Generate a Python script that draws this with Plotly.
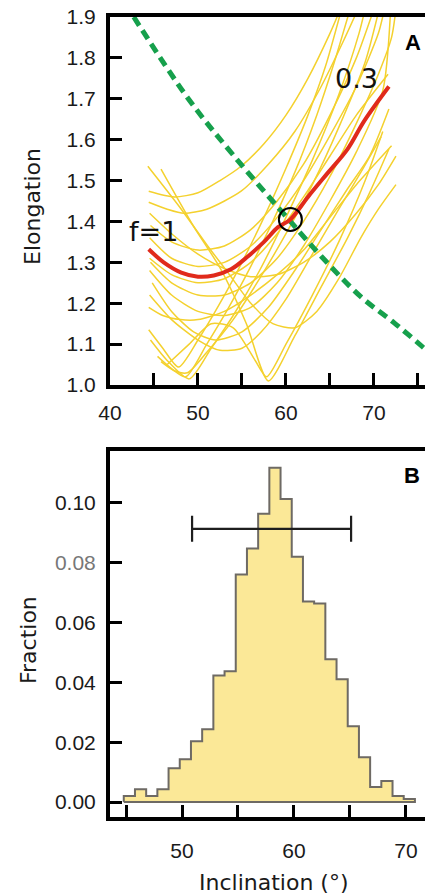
import plotly.graph_objects as go

# ---------------- Panel A data (inclination in degrees, elongation) ----------------
path_01 = [(44.3, 1.535), (48.1, 1.43), (51.1, 1.34), (53.4, 1.275), (56.0, 1.20), (58.5, 1.15),
           (61.0, 1.14), (63.5, 1.18), (66.0, 1.26), (68.5, 1.36), (70.5, 1.43), (72.5, 1.49)]
path_02 = [(45.8, 1.528), (49.5, 1.388), (52.6, 1.283), (55.5, 1.15), (58.0, 1.01),
           (61.0, 1.12), (64.0, 1.24), (67.0, 1.36), (69.5, 1.47), (71.7, 1.577)]
path_03 = [(44.4, 1.474), (47.3, 1.46), (50.0, 1.47), (52.5, 1.50), (54.9, 1.535), (57.5, 1.59),
           (60.0, 1.66), (62.5, 1.75), (65.0, 1.86), (66.0, 1.91)]
path_04 = [(44.4, 1.447), (46.5, 1.43), (48.4, 1.42), (51.0, 1.43), (54.9, 1.474), (58.0, 1.54),
           (61.0, 1.62), (64.0, 1.73), (66.5, 1.84), (68.2, 1.92)]
path_05 = [(44.6, 1.39), (47.0, 1.35), (50.0, 1.33), (53.0, 1.34), (56.0, 1.38), (59.0, 1.45),
           (62.0, 1.54), (65.0, 1.66), (68.0, 1.80), (70.0, 1.92)]
path_06 = [(44.5, 1.36), (47.0, 1.31), (50.0, 1.29), (53.0, 1.30), (56.0, 1.34), (59.0, 1.41),
           (62.0, 1.50), (65.0, 1.61), (68.0, 1.73), (70.5, 1.86), (71.2, 1.92)]
path_07 = [(44.5, 1.31), (47.0, 1.27), (50.0, 1.25), (53.0, 1.26), (56.0, 1.30), (59.0, 1.37),
           (62.0, 1.46), (65.0, 1.56), (68.0, 1.66), (71.6, 1.76)]
path_08 = [(44.6, 1.30), (47.0, 1.25), (50.0, 1.22), (53.0, 1.22), (56.0, 1.25), (59.0, 1.31),
           (62.0, 1.40), (65.0, 1.51), (68.0, 1.64), (70.5, 1.76), (72.0, 1.85), (72.5, 1.92)]
path_09 = [(44.5, 1.28), (47.0, 1.22), (50.0, 1.18), (53.0, 1.17), (56.0, 1.19), (59.0, 1.25),
           (62.0, 1.34), (65.0, 1.45), (68.0, 1.57), (71.0, 1.72), (71.9, 1.92)]
path_10 = [(44.8, 1.25), (47.0, 1.18), (49.5, 1.13), (52.0, 1.11), (55.0, 1.13), (58.0, 1.19),
           (61.0, 1.28), (64.0, 1.38), (67.0, 1.48), (69.5, 1.56), (71.7, 1.675)]
path_11 = [(44.4, 1.19), (46.0, 1.17), (48.0, 1.16), (50.0, 1.16), (53.0, 1.18), (56.0, 1.22),
           (59.0, 1.27), (62.0, 1.33), (65.0, 1.41), (68.0, 1.49), (72.0, 1.585)]
path_12 = [(44.4, 1.135), (46.0, 1.09), (47.8, 1.044), (50.0, 1.11), (52.5, 1.20), (55.0, 1.30),
           (57.5, 1.41), (60.0, 1.53), (62.5, 1.66), (64.5, 1.78), (66.2, 1.91)]
path_13 = [(45.4, 1.07), (47.0, 1.04), (48.6, 1.02), (51.0, 1.10), (53.5, 1.19), (56.0, 1.29),
           (58.5, 1.40), (61.0, 1.52), (63.5, 1.66), (65.5, 1.79), (67.3, 1.92)]
path_14 = [(44.6, 1.11), (46.5, 1.06), (49.0, 1.015), (51.5, 1.09), (54.0, 1.17), (57.0, 1.28),
           (60.0, 1.41), (63.0, 1.55), (66.0, 1.71), (68.3, 1.86), (69.0, 1.92)]
path_15 = [(45.8, 1.057), (47.3, 1.035), (48.8, 1.03), (51.0, 1.08), (54.0, 1.16), (57.0, 1.26),
           (60.0, 1.37), (63.0, 1.49), (66.0, 1.63), (69.0, 1.79), (70.6, 1.92)]
path_16 = [(44.5, 1.22), (47.0, 1.16), (50.0, 1.11), (52.5, 1.085), (55.0, 1.09), (57.2, 1.13),
           (60.0, 1.21), (63.0, 1.32), (66.0, 1.43), (68.5, 1.52), (70.8, 1.607)]
path_17 = [(44.5, 1.42), (47.0, 1.37), (50.0, 1.32), (53.0, 1.285), (56.0, 1.265), (59.0, 1.27),
           (62.0, 1.30), (65.0, 1.35), (68.0, 1.42), (70.5, 1.49), (72.5, 1.56)]
path_18 = [(46.5, 1.05), (49.0, 1.10), (51.5, 1.15), (54.0, 1.14), (56.5, 1.06), (57.8, 1.02),
           (60.0, 1.10), (63.0, 1.22), (66.0, 1.35), (69.0, 1.50), (71.0, 1.62)]
yellow_paths = [path_01, path_02, path_03, path_04, path_05, path_06, path_07, path_08, path_09,
                path_10, path_11, path_12, path_13, path_14, path_15, path_16, path_17, path_18]

best_inc = [44.4, 46.1, 48.1, 50.0, 51.8, 53.75, 55.7, 57.5, 59.1, 60.5, 62.5, 64.8, 67.0, 68.9, 71.7]
best_elong = [1.332, 1.30, 1.275, 1.265, 1.268, 1.283, 1.315, 1.35, 1.386, 1.405, 1.46, 1.52, 1.577, 1.646, 1.73]

model_inc = [42.7, 48.9, 54.1, 60.5, 64.0, 68.5, 72.3, 75.7]
model_elong = [1.90, 1.70, 1.56, 1.40, 1.315, 1.216, 1.152, 1.09]

crossing_inc = [60.5]
crossing_elong = [1.405]

# ---------------- Panel B data (histogram of inclination) ----------------
bin_start = 44.8
bin_width = 1.0
fractions = [0.002, 0.0043, 0.002, 0.0043, 0.0113, 0.0143, 0.0203, 0.0243, 0.0423, 0.0437,
             0.076, 0.0847, 0.0963, 0.1117, 0.1013, 0.082, 0.067, 0.0663, 0.0477, 0.041,
             0.0253, 0.015, 0.005, 0.007, 0.002, 0.001]
ci_center = [58.0]
ci_level = [0.0913]
ci_half_width = [7.1]

# ---------------- figure ----------------
YELLOW = "#f4d12e"
fig = go.Figure()

for p in yellow_paths:
    fig.add_trace(go.Scatter(x=[a for a, b in p], y=[b for a, b in p], mode="lines",
                             line=dict(color=YELLOW, width=1.5, shape="spline", smoothing=0.7),
                             xaxis="x", yaxis="y", hoverinfo="skip", showlegend=False))

fig.add_trace(go.Scatter(x=model_inc, y=model_elong, mode="lines",
                         line=dict(color="#16a04c", width=5, dash="10px,6px", shape="spline"),
                         xaxis="x", yaxis="y", showlegend=False))
fig.add_trace(go.Scatter(x=best_inc, y=best_elong, mode="lines",
                         line=dict(color="#e02a1b", width=4, shape="spline"),
                         xaxis="x", yaxis="y", showlegend=False))
fig.add_trace(go.Scatter(x=crossing_inc, y=crossing_elong, mode="markers",
                         marker=dict(symbol="circle-open", size=23, color="black",
                                     line=dict(width=2, color="black")),
                         xaxis="x", yaxis="y", showlegend=False))

# histogram as step outline
edges = [bin_start + i * bin_width for i in range(len(fractions) + 1)]
hx = [edges[0], edges[0]] + edges[1:] + [edges[0]]
hy = [0] + fractions + [0, 0]
fig.add_trace(go.Scatter(x=hx, y=hy, mode="lines", fill="toself", fillcolor="#fbe897",
                         line=dict(color="#6e6a64", width=2, shape="hv"),
                         xaxis="x2", yaxis="y2", showlegend=False))
fig.add_trace(go.Scatter(x=ci_center, y=ci_level, mode="markers",
                         marker=dict(size=1, color="rgba(0,0,0,0)"),
                         error_x=dict(type="data", array=ci_half_width, color="#1e1e1e",
                                      thickness=2.2, width=13),
                         xaxis="x2", yaxis="y2", showlegend=False))

TICKFONT = dict(family="Liberation Sans, Arial, sans-serif", size=21, color="#1a1a1a")
axis_common = dict(showgrid=False, zeroline=False, showline=True, linecolor="black", linewidth=4,
                   ticks="inside", ticklen=12, tickwidth=3, tickcolor="black", tickfont=TICKFONT)

fig.update_layout(
    width=425, height=895,
    margin=dict(l=110, r=0, t=17, b=78),
    paper_bgcolor="white", plot_bgcolor="white",
    showlegend=False,
    xaxis=dict(domain=[0, 1], anchor="y", range=[40, 75.8],
               tickvals=[40, 45, 50, 55, 60, 65, 70, 75],
               ticktext=["40", "", "50", "", "60", "", "70", ""],
               mirror=True, ticklabelstandoff=6, **axis_common),
    yaxis=dict(domain=[0.54, 1], anchor="x", range=[1.0, 1.9],
               tickvals=[1.0, 1.1, 1.2, 1.3, 1.4, 1.5, 1.6, 1.7, 1.8, 1.9],
               ticktext=["1.0", "1.1", "1.2", "1.3", "1.4", "1.5", "1.6", "1.7", "1.8", "1.9"],
               ticklabelstandoff=6, **axis_common),
    xaxis2=dict(domain=[0, 1], anchor="y2", range=[43.57, 71.7],
                tickvals=[45, 50, 55, 60, 65, 70],
                ticktext=["", "50", "", "60", "", "70"],
                mirror=True, ticklabelstandoff=12, **axis_common),
    yaxis2=dict(domain=[0, 0.4575], anchor="x2", range=[-0.005, 0.1173],
                tickvals=[0.0, 0.02, 0.04, 0.06, 0.08, 0.10],
                ticktext=["0.00", "0.02", "0.04", "0.06",
                          "<span style='color:#777777'>0.08</span>", "0.10"],
                ticklabelstandoff=6, **axis_common),
)

TITLEFONT = dict(family="DejaVu Sans, sans-serif", size=22, color="#1a1a1a")
LABELFONT = dict(family="DejaVu Sans, sans-serif", size=27, color="#111111")
fig.add_annotation(text="Elongation", xref="paper", yref="paper", x=(32 - 110) / 315, y=(895 - 78 - 207) / 800,
                   textangle=-90, showarrow=False, font=TITLEFONT, xanchor="center", yanchor="middle")
fig.add_annotation(text="Fraction", xref="paper", yref="paper", x=(28 - 110) / 315, y=(895 - 78 - 640) / 800,
                   textangle=-90, showarrow=False, font=TITLEFONT, xanchor="center", yanchor="middle")
fig.add_annotation(text="Inclination (°)", xref="paper", yref="paper", x=(273 - 110) / 315, y=(895 - 78 - 882) / 800,
                   showarrow=False, font=TITLEFONT, xanchor="center", yanchor="middle")
fig.add_annotation(text="<b>A</b>", xref="paper", yref="paper", x=(413 - 110) / 315, y=(895 - 78 - 42) / 800,
                   showarrow=False, font=dict(family="Liberation Sans, Arial", size=22, color="black"),
                   xanchor="center", yanchor="middle")
fig.add_annotation(text="<b>B</b>", xref="paper", yref="paper", x=(412 - 110) / 315, y=(895 - 78 - 475) / 800,
                   showarrow=False, font=dict(family="Liberation Sans, Arial", size=22, color="black"),
                   xanchor="center", yanchor="middle")
fig.add_annotation(text="0.3", xref="x", yref="y", x=68.0, y=1.75, showarrow=False, font=LABELFONT,
                   xanchor="center", yanchor="middle")
fig.add_annotation(text="f=1", xref="x", yref="y", x=44.9, y=1.376, showarrow=False, font=LABELFONT,
                   xanchor="center", yanchor="middle")

fig.write_html("out.html", config={"displayModeBar": False},
               post_script="document.body.style.margin='0px';document.body.style.overflow='hidden';")
